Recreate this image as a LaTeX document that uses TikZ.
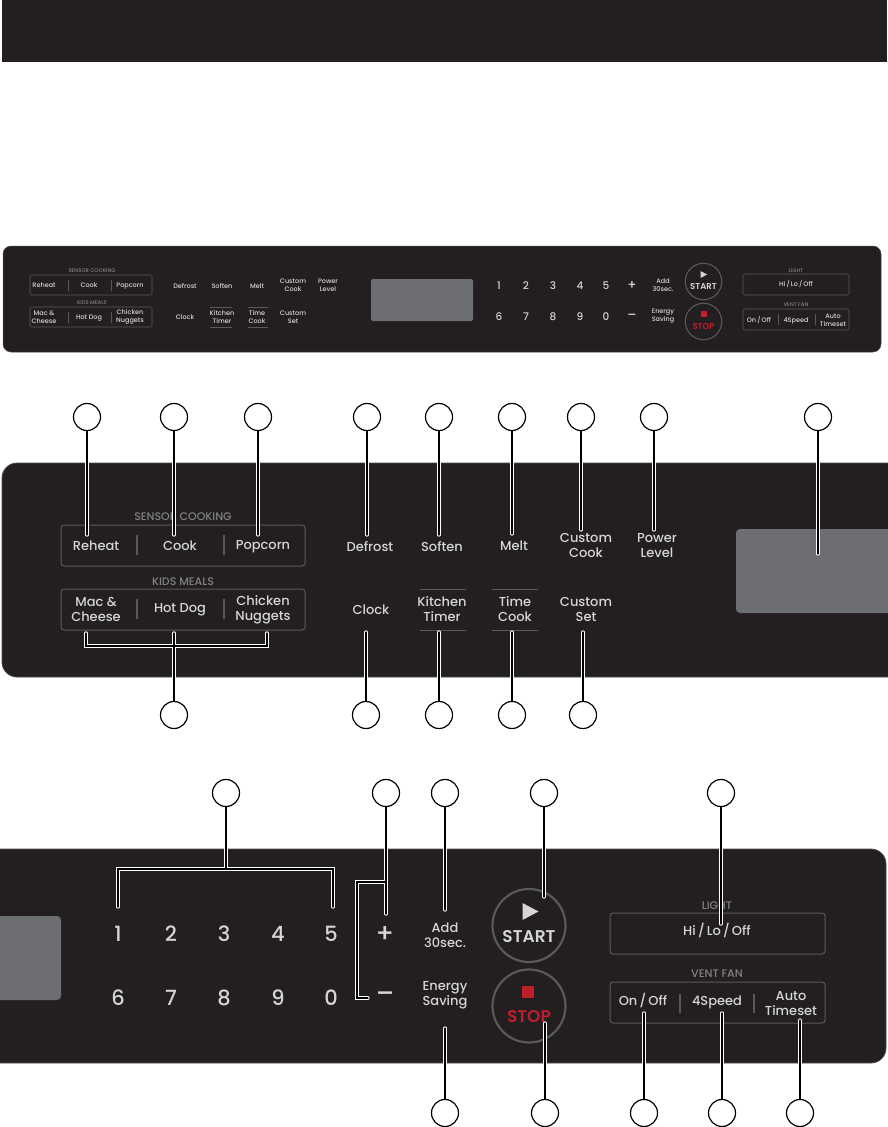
\documentclass[tikz,border=0pt]{standalone}
\usepackage{fontspec}
\setmainfont{Poppins}[UprightFont={* Medium}, BoldFont={* SemiBold}]
\definecolor{panel}{HTML}{231F20}
\definecolor{panedge}{HTML}{4A4A4C}
\definecolor{lbl}{HTML}{D4D5D6}
\definecolor{grpc}{HTML}{808285}
\definecolor{boxc}{HTML}{58595B}
\definecolor{disp}{HTML}{6D6E71}
\definecolor{stopred}{HTML}{BE1E2D}
\pgfdeclarelayer{bg}
\pgfdeclarelayer{lines}
\pgfsetlayers{bg,lines,main}
\tikzset{
  lab/.style={inner sep=0pt, align=center, text=lbl, font=\fontsize{13}{15}\selectfont},
  sl/.style={text height=9.1pt, text depth=0pt},
  labs/.style={inner sep=0pt, align=center, text=lbl, font=\fontsize{6.5}{7.6}\selectfont},
  sls/.style={text height=4.6pt, text depth=0pt},
  grp/.style={inner sep=0pt, text=grpc, font=\fontsize{11}{12}\selectfont, text height=7.7pt, text depth=0pt},
  grps/.style={inner sep=0pt, text=grpc, font=\fontsize{5.3}{6}\selectfont, text height=3.7pt, text depth=0pt},
  num/.style={inner sep=0pt, text=lbl, font=\fontsize{21}{21}\selectfont, text height=14.7pt, text depth=0pt},
  nums/.style={inner sep=0pt, text=lbl, font=\fontsize{10.5}{10.5}\selectfont, text height=7.4pt, text depth=0pt},
  pm/.style={inner sep=0pt, text=lbl, font=\fontsize{26}{26}\selectfont},
  pms/.style={inner sep=0pt, text=lbl, font=\fontsize{13}{13}\selectfont},
  keybox/.style={draw=boxc, line width=1pt, rounded corners=3pt},
  keyboxs/.style={draw=boxc, line width=0.6pt, rounded corners=1.5pt},
  divider/.style={draw=boxc, line width=1.2pt},
  dividers/.style={draw=boxc, line width=0.6pt},
  ring/.style={circle, draw=boxc, line width=2.2pt, minimum size=73pt, inner sep=0pt},
  rings/.style={circle, draw=boxc, line width=1.1pt, minimum size=36.5pt, inner sep=0pt},
  bigkey/.style={inner sep=0pt, font=\bfseries\fontsize{17}{17}\selectfont, text height=12pt, text depth=0pt},
  bigkeys/.style={inner sep=0pt, font=\bfseries\fontsize{8.5}{8.5}\selectfont, text height=6pt, text depth=0pt},
  callout/.style={circle, draw=black, fill=white, line width=1.2pt, minimum size=27pt, inner sep=0pt},
  leader/.style={draw=white, line width=1pt, double=black, double distance=1.3pt, line cap=round, line join=miter},
}
\begin{document}
\begin{tikzpicture}[x=1pt,y=-1pt]
\useasboundingbox (0,0) rectangle (887,1127);
\begin{pgfonlayer}{bg}
% header bar
\fill[panel] (2,0) rectangle (887,62);

% ---------------- small overview panel ----------------
\filldraw[fill=panel, draw=panedge, line width=0.5pt, rounded corners=8pt] (3,246) rectangle (881,352);
\node[grps] (sSensor) at (92,271) {SENSOR COOKING};
\draw[keyboxs] (30,275) rectangle (152,295);
\draw[dividers] (68,280) -- (68,291) (111,280) -- (111,291);
\node[labs,sls] (sReheat) at (44,285.5) {Reheat};
\node[labs,sls] (sCook) at (89,285.5) {Cook};
\node[labs,sls] (sPopcorn) at (130,285.5) {Popcorn};
\node[grps] (sKids) at (92,303) {KIDS MEALS};
\draw[keyboxs] (30,307) rectangle (152,327);
\draw[dividers] (68,312) -- (68,323) (111,312) -- (111,323);
\node[labs] (sMac) at (44,317) {Mac \&\\Cheese};
\node[labs,sls] (sHot) at (89,317) {Hot Dog};
\node[labs] (sChicken) at (130,317) {Chicken\\Nuggets};
\node[labs,sls] (sDefrost) at (185,286) {Defrost};
\node[labs,sls] (sSoften) at (222,286) {Soften};
\node[labs,sls] (sMelt) at (257,286) {Melt};
\node[labs] (sCCook) at (293,285) {Custom\\Cook};
\node[labs] (sPower) at (328,285) {Power\\Level};
\node[labs,sls] (sClock) at (185,317) {Clock};
\node[labs] (sKitchen) at (222,317) {Kitchen\\Timer};
\node[labs] (sTime) at (257,317) {Time\\Cook};
\node[labs] (sCSet) at (293,317) {Custom\\Set};
\draw[dividers] (210,307) -- (232,307) (210,327) -- (232,327);
\draw[dividers] (248,307) -- (268,307) (248,327) -- (268,327);
\fill[disp, rounded corners=2pt] (371,279) rectangle (473,321);
\foreach \d/\x in {1/499,2/526,3/553,4/580,5/606}
  \node[nums] (sn\d) at (\x,286) {\d};
\foreach \d/\x in {6/499,7/526,8/553,9/580,0/606}
  \node[nums] (sn\d) at (\x,317) {\d};
\node[pms] (sPlus) at (632,285.5) {+};
\node[pms] (sMinus) at (632,316.5) {–};
\node[labs] (sAdd) at (663,285) {Add\\30sec.};
\node[labs] (sEnergy) at (663,316) {Energy\\Saving};
\node[rings] (sStartRing) at (703.5,281.5) {};
\fill[lbl] (700.5,271) -- (700.5,278) -- (707,274.5) -- cycle;
\node[bigkeys, text=lbl] (sStart) at (703.5,286.5) {START};
\node[rings] (sStopRing) at (703.5,321.5) {};
\fill[stopred] (700.5,311) rectangle (706.5,317);
\node[bigkeys, text=stopred] (sStop) at (703.5,326) {STOP};
\node[grps] (sLight) at (796,271) {LIGHT};
\draw[keyboxs] (743,274) rectangle (849,295);
\node[labs,sls] (sHiLo) at (796,284.5) {Hi\,/\,Lo\,/\,Off};
\node[grps] (sVent) at (796,305) {VENT FAN};
\draw[keyboxs] (743,309) rectangle (849,330);
\draw[dividers] (778,314) -- (778,325) (815,314) -- (815,325);
\node[labs,sls] (sOnOff) at (759,320) {On\,/\,Off};
\node[labs,sls] (s4Speed) at (796,320) {4Speed};
\node[labs] (sAuto) at (833,320) {Auto\\Timeset};

% ---------------- middle panel ----------------
\filldraw[fill=panel, draw=panedge, line width=0.8pt, rounded corners=15pt] (2,463) rectangle (910,677);
\node[grp] (mSensor) at (183,517) {SENSOR COOKING};
\draw[keybox] (61,525) rectangle (305,566);
\draw[divider] (137,535) -- (137,555) (224,535) -- (224,555);
\node[lab,sl] (mReheat) at (96,546) {Reheat};
\node[lab,sl] (mCook) at (180,546) {Cook};
\node[lab,sl] (mPopcorn) at (263,545) {Popcorn};
\node[grp] (mKids) at (183,582) {KIDS MEALS};
\draw[keybox] (61,589) rectangle (305,630);
\draw[divider] (137,599) -- (137,619) (224,599) -- (224,619);
\node[lab] (mMac) at (96,609.5) {Mac \&\\Cheese};
\node[lab,sl] (mHot) at (180,608) {Hot Dog};
\node[lab] (mChicken) at (263,609.5) {Chicken\\Nuggets};
\node[lab,sl] (mDefrost) at (370,547) {Defrost};
\node[lab,sl] (mSoften) at (442,547) {Soften};
\node[lab,sl] (mMelt) at (514,546) {Melt};
\node[lab] (mCCook) at (586,545.5) {Custom\\Cook};
\node[lab] (mPower) at (657,545.5) {Power\\Level};
\node[lab,sl] (mClock) at (371,610) {Clock};
\node[lab] (mKitchen) at (442,609.5) {Kitchen\\Timer};
\node[lab] (mTime) at (515,609.5) {Time\\Cook};
\node[lab] (mCSet) at (586,609.5) {Custom\\Set};
\draw[boxc, line width=1pt] (420,589) -- (466,589) (420,630) -- (466,630);
\draw[boxc, line width=1pt] (492,589) -- (538,589) (492,630) -- (538,630);
\fill[disp, rounded corners=4pt] (736,529) rectangle (900,613);

% ---------------- bottom panel ----------------
\filldraw[fill=panel, draw=panedge, line width=0.8pt, rounded corners=15pt] (-20,849) rectangle (886,1063);
\fill[disp, rounded corners=4pt] (-10,916) rectangle (61,1000);
\foreach \d/\x in {1/118,2/171,3/224,4/278,5/331}
  \node[num] (bn\d) at (\x,934) {\d};
\foreach \d/\x in {6/118,7/171,8/224,9/278,0/331}
  \node[num] (bn\d) at (\x,998) {\d};
\node[pm] (bPlus) at (385,934) {+};
\node[pm] (bMinus) at (385,997) {–};
\node[lab] (bAdd) at (445,935) {Add\\30sec.};
\node[lab] (bEnergy) at (445,995) {Energy\\Saving};
\node[ring] (bStartRing) at (529,925.5) {};
\fill[lbl] (522.5,903) -- (522.5,920) -- (538.5,911.5) -- cycle;
\node[bigkey, text=lbl] (bStart) at (529,936) {START};
\node[ring] (bStopRing) at (529,1006) {};
\fill[stopred] (522,986) rectangle (534,998);
\node[bigkey, text=stopred] (bStop) at (529,1016) {STOP};
\node[grp] (bLight) at (717,906) {LIGHT};
\draw[keybox] (610,913) rectangle (825,954);
\node[lab,sl] (bHiLo) at (717,931) {Hi\,/\,Lo\,/\,Off};
\node[grp] (bVent) at (717,974) {VENT FAN};
\draw[keybox] (610,982) rectangle (825,1023);
\draw[divider] (680,994) -- (680,1013) (754,994) -- (754,1013);
\node[lab,sl] (bOnOff) at (643,1001) {On\,/\,Off};
\node[lab,sl] (b4Speed) at (717,1001) {4Speed};
\node[lab] (bAuto) at (791,1003.5) {Auto\\Timeset};
\end{pgfonlayer}

% ---------------- callout circles ----------------
\foreach \n/\x in {Reheat/87,Cook/174,Popcorn/258,Defrost/367,Soften/439,Melt/512,CCook/581,Power/654,Disp/818}
  \node[callout] (c\n) at (\x,417) {};
\foreach \n/\x in {Kids/174,Clock/366,Kitchen/439,Time/512,CSet/583}
  \node[callout] (c\n) at (\x,715) {};
\foreach \n/\x in {Num/226,PM/386,Add/445,Start/544,Light/721}
  \node[callout] (c\n) at (\x,793) {};
\foreach \n/\x in {Energy/445,Stop/545,OnOff/644,Speed/722,Auto/800}
  \node[callout] (c\n) at (\x,1113) {};

% leader end points
\coordinate (eReheat) at (87,535);
\coordinate (eCook) at (174,535);
\coordinate (ePopcorn) at (258,535);
\coordinate (eDefrost) at (367,535);
\coordinate (eSoften) at (439,535);
\coordinate (eMelt) at (512,534);
\coordinate (eCCook) at (581,530);
\coordinate (ePower) at (654,530);
\coordinate (eDisp) at (818,554);
\coordinate (kL) at (86,633);
\coordinate (kM) at (174,646);
\coordinate (kR) at (267,633);
\coordinate (kTop) at (174,633);
\coordinate (eClock) at (366,632);
\coordinate (eKitchen) at (439,632);
\coordinate (eTime) at (512,632);
\coordinate (eCSet) at (583,632);
\coordinate (nL) at (118,907);
\coordinate (nM) at (226,869);
\coordinate (nR) at (333,907);
\coordinate (pTop) at (386,914);
\coordinate (pJ) at (386,882);
\coordinate (pK) at (357,998);
\coordinate (pEnd) at (368,998);
\coordinate (eAdd) at (445,910);
\coordinate (eStart) at (544,897);
\coordinate (eLight) at (721,924);
\coordinate (eEnergy) at (445,1028);
\coordinate (eStop) at (545,1023);
\coordinate (eOnOff) at (644,1013);
\coordinate (eSpeed) at (722,1013);
\coordinate (eAuto) at (800,1020);

\begin{pgfonlayer}{lines}
\foreach \n in {Reheat,Cook,Popcorn,Defrost,Soften,Melt,CCook,Power,Disp,Clock,Kitchen,Time,CSet,Add,Start,Light,Energy,Stop,OnOff,Speed,Auto}
  \draw[leader] (c\n.center) -- (e\n);
\draw[leader] (cKids.center) -- (kTop) (kL) |- (kM) -| (kR);
\draw[leader] (cNum.center) -- (nM) (nL) |- (nM) -| (nR);
\draw[leader] (cPM.center) -- (pTop) (pJ) -| (pK) -- (pEnd);
\end{pgfonlayer}
\end{tikzpicture}
\end{document}
